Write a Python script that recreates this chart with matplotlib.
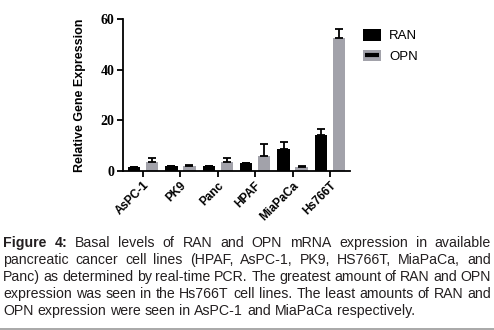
import numpy as np
import matplotlib
matplotlib.use("Agg")
import matplotlib.pyplot as plt
import matplotlib.transforms as mtransforms
from matplotlib.patches import Patch
from matplotlib.lines import Line2D

cells = ["AsPC-1", "PK9", "Panc", "HPAF", "MiaPaCa", "Hs766T"]
ran = [1.7, 2.1, 2.1, 3.3, 8.7, 14.2]
ran_err = [0.0, 0.0, 0.0, 0.0, 2.6, 2.4]
opn = [3.7, 2.1, 3.7, 6.0, 1.5, 52.5]
opn_err = [1.4, 0.4, 1.4, 4.5, 0.4, 3.5]

caption = [
    "Figure 4: Basal levels of RAN and OPN mRNA expression in available",
    "pancreatic cancer cell lines (HPAF, AsPC-1, PK9, HS766T, MiaPaCa, and",
    "Panc) as determined by real-time PCR. The greatest amount of RAN and OPN",
    "expression was seen in the Hs766T cell lines. The least amounts of RAN and",
    "OPN expression were seen in AsPC-1 and MiaPaCa respectively.",
]

gray = "#a2a2aa"
txt = "#231f20"

fig = plt.figure(figsize=(4.94, 3.30), dpi=100)
ax = fig.add_axes([123/494, 1-171/330, 227/494, 152/330])

x = np.arange(len(cells))
w = 0.33
ekw = dict(ecolor="black", elinewidth=1.3, capsize=3, capthick=1.3)
# error bars only drawn upward, as in the original
ax.bar(x - 0.24, ran, w, color="black",
       yerr=[np.zeros(len(ran)), ran_err], error_kw=ekw)
ax.bar(x + 0.24, opn, w, color=gray,
       yerr=[np.zeros(len(opn)), opn_err], error_kw=ekw)

ax.set_xlim(-0.535, 5.535)
ax.set_ylim(0, 60)
ax.set_yticks([0, 20, 40, 60])
ax.set_yticklabels(["0", "20", "40", "60"], fontfamily="Liberation Serif",
                   fontweight="bold", fontsize=10)
ax.set_xticks(x)
ax.set_xticklabels(cells, rotation=45, ha="right", rotation_mode="anchor",
                   fontfamily="Liberation Sans", fontweight="bold", fontsize=8.5)
shift = mtransforms.ScaledTranslation(9/100, -1/100, fig.dpi_scale_trans)
for lab in ax.get_xticklabels():
    lab.set_transform(lab.get_transform() + shift)
for s in ["top", "right"]:
    ax.spines[s].set_visible(False)
for s in ["left", "bottom"]:
    ax.spines[s].set_linewidth(1.3)
ax.tick_params(direction="out", length=4, width=1.3, pad=2)
ax.set_ylabel("Relative Gene Expression", fontfamily="Liberation Sans",
              fontweight="bold", fontsize=9.0, labelpad=11)

handles = [Patch(facecolor="black"),
           (Patch(facecolor=gray),
            Line2D([], [], color="black", marker="_", markersize=10, mew=3,
                   linestyle="none"))]
fig.legend(handles, ["RAN", "OPN"], loc="upper left",
           bbox_to_anchor=(351/494, 1-17/330), frameon=False,
           prop=dict(family="Liberation Sans", size=9.5),
           handlelength=1.4, handleheight=1.0, handletextpad=0.6,
           labelspacing=0.55)

# caption, justified like the journal page
fig.canvas.draw()
r = fig.canvas.get_renderer()
fs = 10.2
left, right = 3, 491
baselines = [247, 264, 281, 298, 315]
for i, line in enumerate(caption):
    words = line.split(" ")
    arts = []
    for j, wd in enumerate(words):
        bold = (i == 0 and j < 2)
        t = fig.text(0, 0, wd, fontsize=fs, family="Liberation Sans",
                     fontweight="bold" if bold else "normal", color=txt,
                     va="baseline", ha="left")
        arts.append(t)
    widths = [a.get_window_extent(r).width for a in arts]
    if i < len(caption) - 1:
        gap = (right - left - sum(widths)) / (len(words) - 1)
    else:
        sp = fig.text(0, 0, "a a", fontsize=fs, family="Liberation Sans")
        sp2 = fig.text(0, 0, "aa", fontsize=fs, family="Liberation Sans")
        gap = sp.get_window_extent(r).width - sp2.get_window_extent(r).width
        sp.remove()
        sp2.remove()
    xpos = left
    for a, wdt in zip(arts, widths):
        a.set_position((xpos / 494, 1 - baselines[i] / 330))
        xpos += wdt + gap

fig.add_artist(Line2D([0, 1], [1 - 328.5/330, 1 - 328.5/330], color="#999999",
                      linewidth=1.2, transform=fig.transFigure))

fig.savefig("out.png", dpi=100)
